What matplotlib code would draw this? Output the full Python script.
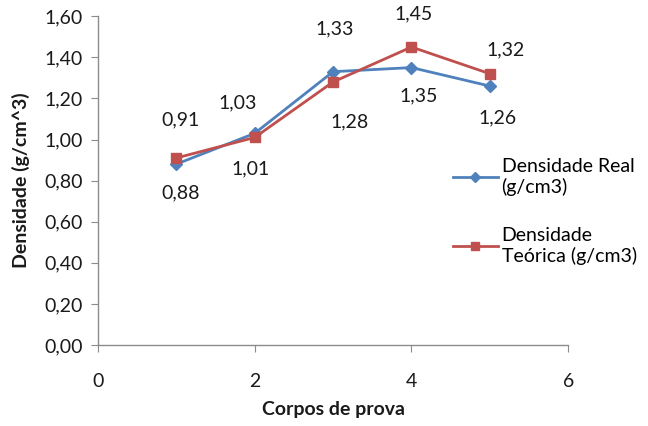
import matplotlib
matplotlib.use("Agg")
import matplotlib.pyplot as plt
from matplotlib.ticker import FuncFormatter

# Data
corpos = [1, 2, 3, 4, 5]
dens_real = [0.88, 1.03, 1.33, 1.35, 1.26]
dens_teorica = [0.91, 1.01, 1.28, 1.45, 1.32]
label_real = "Densidade Real\n(g/cm3)"
label_teorica = "Densidade\nTeórica (g/cm3)"
x_ticks = [0, 2, 4, 6]
y_ticks = [0.0, 0.2, 0.4, 0.6, 0.8, 1.0, 1.2, 1.4, 1.6]

# label offsets in pixels (dx, dy)
off_real = [(4, -29), (-17, 30), (2, 43), (7, -28), (8, -32)]
off_teor = [(4, 38), (-4, -31), (17, -40), (2, 33), (16, 24)]

plt.rcParams['font.family'] = ['Lato', 'DejaVu Sans']

blue = '#4F81BD'
red = '#C0504D'
gray = '#8C8C8C'
txt = '#1a1a1a'

fig = plt.figure(figsize=(6.48, 4.26), dpi=100)
ax = fig.add_axes([0.151, 0.190, 0.726, 0.772])

ax.plot(corpos, dens_real, color=blue, marker='D', markersize=6, linewidth=2,
        label=label_real)
ax.plot(corpos, dens_teorica, color=red, marker='s', markersize=7, linewidth=2,
        label=label_teorica)

for x, y, (dx, dy) in zip(corpos, dens_real, off_real):
    ax.annotate(f"{y:.2f}".replace('.', ','), (x, y), xytext=(dx, dy),
                textcoords='offset pixels', ha='center', va='center',
                fontsize=14, color=txt)
for x, y, (dx, dy) in zip(corpos, dens_teorica, off_teor):
    ax.annotate(f"{y:.2f}".replace('.', ','), (x, y), xytext=(dx, dy),
                textcoords='offset pixels', ha='center', va='center',
                fontsize=14, color=txt)

ax.set_xlim(0, 6)
ax.set_ylim(0, 1.6)
ax.set_xticks(x_ticks)
ax.set_yticks(y_ticks)
ax.yaxis.set_major_formatter(FuncFormatter(lambda v, p: f"{v:.2f}".replace('.', ',')))

for s in ['top', 'right']:
    ax.spines[s].set_visible(False)
for s in ['left', 'bottom']:
    ax.spines[s].set_color(gray)
    ax.spines[s].set_linewidth(1)
ax.tick_params(axis='both', direction='out', length=5, color=gray,
               labelsize=14, labelcolor=txt, pad=6)
ax.tick_params(axis='x', pad=15)

ax.set_xlabel("Corpos de prova", fontsize=14, fontweight='bold', labelpad=8,
              color=txt)
ax.set_ylabel("Densidade (g/cm^3)", fontsize=14, fontweight='bold', labelpad=10,
              color=txt)

leg = fig.legend(loc='upper left', bbox_to_anchor=(0.672, 0.67), frameon=False,
                 fontsize=14, handlelength=2.3, handletextpad=0.2,
                 labelspacing=1.6, markerscale=0.9)

fig.savefig("out.png", dpi=100, facecolor='white')
